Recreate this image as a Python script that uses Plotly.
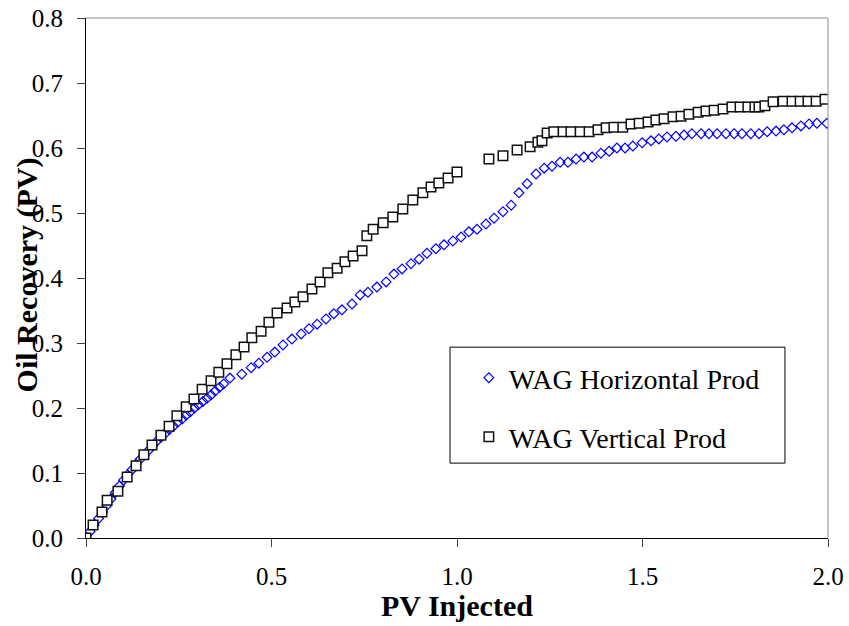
import plotly.graph_objects as go

# PV injected vs oil recovery, horizontal producer (WAG)
horiz_pv = [0.000, 0.011, 0.022, 0.034, 0.045, 0.056, 0.067, 0.079, 0.090, 0.101,
            0.112, 0.124, 0.135, 0.146, 0.157, 0.169, 0.180, 0.191, 0.202, 0.214,
            0.225, 0.236, 0.247, 0.259, 0.270, 0.281, 0.292, 0.303, 0.315, 0.326,
            0.337, 0.348, 0.360, 0.371, 0.388, 0.420, 0.445, 0.466, 0.488, 0.509,
            0.531, 0.555, 0.580, 0.601, 0.623, 0.647, 0.668, 0.690, 0.717, 0.739,
            0.760, 0.784, 0.809, 0.830, 0.852, 0.876, 0.898, 0.919, 0.943, 0.965,
            0.989, 1.011, 1.032, 1.054, 1.078, 1.100, 1.124, 1.146, 1.167, 1.189,
            1.213, 1.235, 1.256, 1.278, 1.299, 1.321, 1.342, 1.364, 1.388, 1.410,
            1.431, 1.453, 1.474, 1.499, 1.523, 1.544, 1.566, 1.590, 1.612, 1.633,
            1.658, 1.679, 1.701, 1.725, 1.747, 1.768, 1.792, 1.814, 1.836, 1.860,
            1.881, 1.903, 1.927, 1.949, 1.970, 1.997]
horiz_rec = [0.000, 0.010, 0.020, 0.030, 0.040, 0.050, 0.060, 0.070, 0.080, 0.089,
             0.097, 0.105, 0.113, 0.121, 0.128, 0.135, 0.142, 0.149, 0.155, 0.161,
             0.167, 0.172, 0.178, 0.183, 0.189, 0.194, 0.200, 0.205, 0.210, 0.215,
             0.220, 0.226, 0.232, 0.237, 0.246, 0.252, 0.262, 0.269, 0.278, 0.286,
             0.297, 0.306, 0.314, 0.322, 0.329, 0.337, 0.345, 0.351, 0.360, 0.374,
             0.378, 0.386, 0.394, 0.406, 0.414, 0.422, 0.429, 0.438, 0.445, 0.451,
             0.457, 0.463, 0.471, 0.475, 0.483, 0.492, 0.502, 0.512, 0.531, 0.545,
             0.560, 0.569, 0.572, 0.578, 0.578, 0.583, 0.586, 0.586, 0.592, 0.595,
             0.600, 0.600, 0.603, 0.608, 0.611, 0.614, 0.617, 0.618, 0.620, 0.622,
             0.622, 0.622, 0.622, 0.622, 0.622, 0.622, 0.622, 0.622, 0.625, 0.626,
             0.628, 0.631, 0.634, 0.637, 0.638, 0.638]

# PV injected vs oil recovery, vertical producer (WAG)
vert_pv = [0.000, 0.019, 0.043, 0.057, 0.086, 0.111, 0.135, 0.156, 0.178, 0.202,
           0.224, 0.245, 0.270, 0.291, 0.313, 0.337, 0.358, 0.380, 0.404, 0.426,
           0.447, 0.472, 0.493, 0.515, 0.542, 0.563, 0.585, 0.609, 0.631, 0.652,
           0.677, 0.698, 0.720, 0.744, 0.757, 0.774, 0.801, 0.827, 0.854, 0.881,
           0.908, 0.930, 0.951, 0.976, 1.000,
           1.086, 1.124, 1.162, 1.197, 1.218, 1.229, 1.243, 1.261, 1.286, 1.307,
           1.332, 1.356, 1.380, 1.402, 1.423, 1.447, 1.469, 1.491, 1.515, 1.536,
           1.558, 1.582, 1.604, 1.625, 1.650, 1.671, 1.693, 1.717, 1.741, 1.763,
           1.784, 1.803, 1.814, 1.830, 1.852, 1.879, 1.903, 1.925, 1.946, 1.968,
           1.992]
vert_rec = [0.000, 0.020, 0.040, 0.058, 0.072, 0.094, 0.111, 0.128, 0.143, 0.158,
            0.172, 0.188, 0.202, 0.214, 0.229, 0.242, 0.255, 0.268, 0.282, 0.294,
            0.308, 0.318, 0.332, 0.346, 0.354, 0.363, 0.371, 0.383, 0.394, 0.408,
            0.415, 0.425, 0.434, 0.442, 0.465, 0.475, 0.485, 0.494, 0.506, 0.520,
            0.531, 0.540, 0.546, 0.554, 0.563,
            0.583, 0.588, 0.597, 0.602, 0.609, 0.611, 0.623, 0.625, 0.625, 0.625,
            0.625, 0.625, 0.628, 0.631, 0.632, 0.632, 0.637, 0.638, 0.640, 0.643,
            0.645, 0.648, 0.649, 0.652, 0.655, 0.657, 0.658, 0.660, 0.663, 0.663,
            0.663, 0.663, 0.663, 0.665, 0.671, 0.672, 0.672, 0.672, 0.672, 0.672,
            0.675]

x_ticks = [0.0, 0.5, 1.0, 1.5, 2.0]
x_tick_text = ["0.0", "0.5", "1.0", "1.5", "2.0"]
y_ticks = [0.0, 0.1, 0.2, 0.3, 0.4, 0.5, 0.6, 0.7, 0.8]
y_tick_text = ["0.0", "0.1", "0.2", "0.3", "0.4", "0.5", "0.6", "0.7", "0.8"]

SERIF = "Liberation Serif"

fig = go.Figure()
fig.add_trace(go.Scatter(
    x=horiz_pv, y=horiz_rec, mode="markers", name="WAG Horizontal Prod",
    marker=dict(symbol="diamond-open", size=7.5, color="#0000FF",
                line=dict(width=1.2, color="#0000FF")),
    legend="legend",
))
fig.add_trace(go.Scatter(
    x=vert_pv, y=vert_rec, mode="markers", name="WAG Vertical Prod",
    marker=dict(symbol="square", size=9.5, color="white",
                line=dict(width=1.5, color="#111111")),
    legend="legend2",
))

legend_style = dict(
    xanchor="left", yanchor="middle", bgcolor="rgba(0,0,0,0)",
    borderwidth=0, font=dict(family=SERIF, size=28, color="black"),
    itemsizing="trace",
)

fig.update_layout(
    width=849, height=626,
    margin=dict(l=86, r=21, t=18, b=88, autoexpand=False),
    paper_bgcolor="white", plot_bgcolor="white",
    font=dict(family=SERIF, color="black"),
    showlegend=True,
    legend=dict(x=0.516, y=0.3077, **legend_style),
    legend2=dict(x=0.516, y=0.194, **legend_style),
    xaxis=dict(
        range=[0, 2.0], tickvals=x_ticks, ticktext=x_tick_text,
        showgrid=False, zeroline=False, automargin=False,
        showline=True, linecolor="black", linewidth=1,
        ticks="outside", ticklen=8, tickcolor="#444", tickwidth=1,
        tickfont=dict(family=SERIF, size=25, color="black"),
        ticklabelstandoff=8,
    ),
    yaxis=dict(
        range=[0, 0.8], tickvals=y_ticks, ticktext=y_tick_text,
        showgrid=False, zeroline=False, automargin=False,
        showline=True, linecolor="black", linewidth=1,
        ticks="outside", ticklen=8, tickcolor="#444", tickwidth=1,
        tickfont=dict(family=SERIF, size=25, color="black"),
        ticklabelstandoff=9,
    ),
    annotations=[
        dict(text="<b>PV Injected</b>", xref="paper", yref="paper",
             x=0.5, y=-0.129, xanchor="center", yanchor="middle",
             showarrow=False,
             font=dict(family=SERIF, size=30, color="black")),
        dict(text="<b>Oil Recovery (PV)</b>", xref="paper", yref="paper",
             x=-0.0795, y=0.505, xanchor="center", yanchor="middle",
             textangle=-90, showarrow=False,
             font=dict(family=SERIF, size=30, color="black")),
    ],
    shapes=[
        # gray frame on the top and right of the plotting area
        dict(type="line", xref="paper", yref="paper", x0=0, x1=1, y0=1, y1=1,
             line=dict(color="#8c8c8c", width=1)),
        dict(type="line", xref="paper", yref="paper", x0=1, x1=1, y0=0, y1=1,
             line=dict(color="#8c8c8c", width=1)),
        # legend box
        dict(type="rect", xref="paper", yref="paper",
             x0=0.4906, x1=0.942, y0=0.144, y1=0.367,
             fillcolor="white", line=dict(color="black", width=1), layer="below"),
    ],
)

fig.write_html("out.html")
